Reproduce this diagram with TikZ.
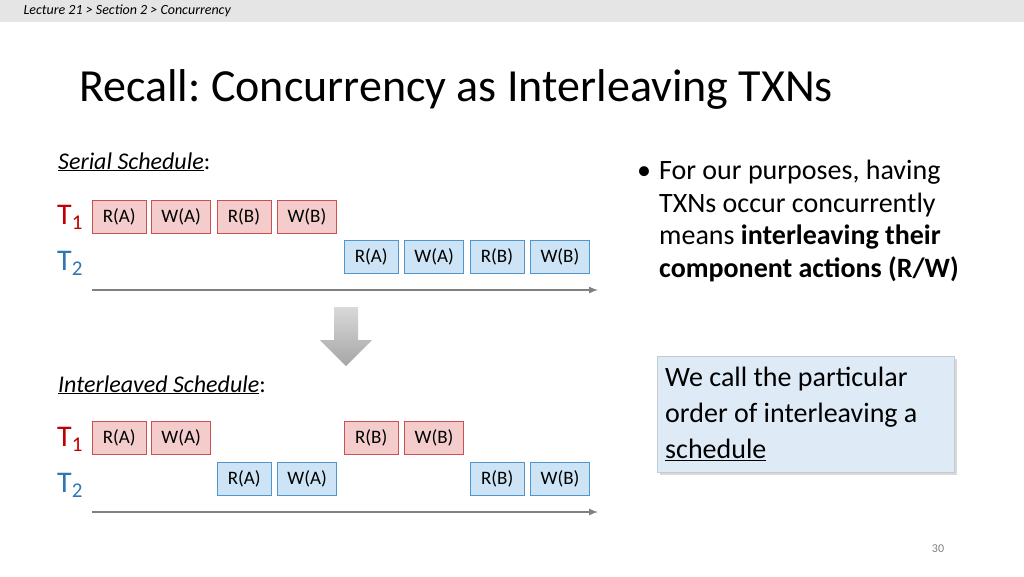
\documentclass[tikz,border=0pt]{standalone}
\usepackage{fontspec}
\setmainfont{Carlito}
\frenchspacing
\usetikzlibrary{positioning,shadows}
\definecolor{tred}{RGB}{192,0,0}
\definecolor{tblue}{RGB}{46,117,182}
\definecolor{redfill}{RGB}{244,204,204}
\definecolor{redline}{RGB}{205,80,80}
\definecolor{bluefill}{RGB}{204,228,245}
\definecolor{blueline}{RGB}{80,150,205}
\definecolor{notefill}{RGB}{222,235,247}
\tikzset{
  op/.style={draw,rectangle,minimum height=33pt,inner sep=0pt,font=\fontsize{19}{19}\selectfont,anchor=west},
  rop/.style={op,fill=redfill,draw=redline},
  bop/.style={op,fill=bluefill,draw=blueline},
  rd/.style={minimum width=54pt},
  wr/.style={minimum width=59pt},
  tlabel/.style={anchor=west,font=\fontsize{30}{30}\selectfont,inner sep=0pt},
  timeline/.style={draw=gray,line width=2pt,-latex},
}
\begin{document}
\begin{tikzpicture}[x=1pt,y=-1pt,node distance=6pt]
    \useasboundingbox (0,0) rectangle (1024,576);
    % header
    \fill[gray!20] (0,0) rectangle (1024,22);
    \node[anchor=west,font=\fontsize{14}{14}\selectfont\itshape] (crumb) at (20,11) {Lecture 21 > Section 2 > Concurrency};
    \node[anchor=base west,font=\fontsize{46}{46}\selectfont,inner sep=0pt] (title) at (79,101) {Recall: Concurrency as Interleaving TXNs};

    % serial schedule
    \node[anchor=base west,font=\fontsize{24}{24}\selectfont,inner sep=0pt] (serial) at (58,169) {\textit{\underline{Serial Schedule}}:};
    \node[tlabel,text=tred] (s1) at (57,217) {T\textsubscript{1}};
    \node[tlabel,text=tblue] (s2) at (57,263) {T\textsubscript{2}};
    \node[rop,rd] (sa1) at (92,216.5) {R(A)};
    \node[rop,wr,right=5pt of sa1] (sa2) {W(A)};
    \node[rop,rd,right=6pt of sa2] (sa3) {R(B)};
    \node[rop,wr,right=6pt of sa3] (sa4) {W(B)};
    \node[bop,rd] (sb1) at (344,257) {R(A)};
    \node[bop,wr,right=6pt of sb1] (sb2) {W(A)};
    \node[bop,rd,right=6pt of sb2] (sb3) {R(B)};
    \node[bop,wr,right=6pt of sb3] (sb4) {W(B)};
    \coordinate (st0) at (92,290);
    \coordinate (st1) at (598,290);
    \draw[timeline] (st0) -- (st1);

    % transition arrow
    \shade[top color=gray!30,bottom color=gray!70,draw=none]
      (334,307) -- (358,307) -- (358,340) -- (372,340) -- (346,366) -- (320,340) -- (334,340) -- cycle;

    % interleaved schedule
    \node[anchor=base west,font=\fontsize{24}{24}\selectfont,inner sep=0pt] (inter) at (58,392) {\textit{\underline{Interleaved Schedule}}:};
    \node[tlabel,text=tred] (i1) at (57,439) {T\textsubscript{1}};
    \node[tlabel,text=tblue] (i2) at (57,485) {T\textsubscript{2}};
    \node[rop,rd] (ia1) at (92,438) {R(A)};
    \node[rop,wr,right=5pt of ia1] (ia2) {W(A)};
    \node[rop,rd] (ia3) at (344,438) {R(B)};
    \node[rop,wr,right=6pt of ia3] (ia4) {W(B)};
    \node[bop,rd] (ib1) at (217,479) {R(A)};
    \node[bop,wr,right=6pt of ib1] (ib2) {W(A)};
    \node[bop,rd] (ib3) at (470,479) {R(B)};
    \node[bop,wr,right=6pt of ib3] (ib4) {W(B)};
    \coordinate (it0) at (92,512);
    \coordinate (it1) at (598,512);
    \draw[timeline] (it0) -- (it1);

    % right column
    \node[anchor=north west,font=\fontsize{28}{32.5}\selectfont,text width=360pt,align=flush left,inner sep=0pt] (bullet) at (637,160)
      {\textbullet\hspace{8pt}For our purposes, having\\\hspace{22pt}TXNs occur concurrently\\\hspace{22pt}means \textbf{interleaving their}\\\hspace{22pt}\textbf{component actions (R/W)}};
    \node[anchor=north west,draw=notefill!70!gray,fill=notefill,drop shadow={opacity=0.3},minimum width=297pt,minimum height=116pt,
      text width=281pt,align=flush left,inner sep=8pt,font=\fontsize{28}{36}\selectfont] (note) at (657,356)
      {We call the particular\\order of interleaving a\\\underline{schedule}};
    \node[font=\fontsize{12}{12}\selectfont,text=gray] (page) at (938,549) {30};
\end{tikzpicture}
\end{document}
